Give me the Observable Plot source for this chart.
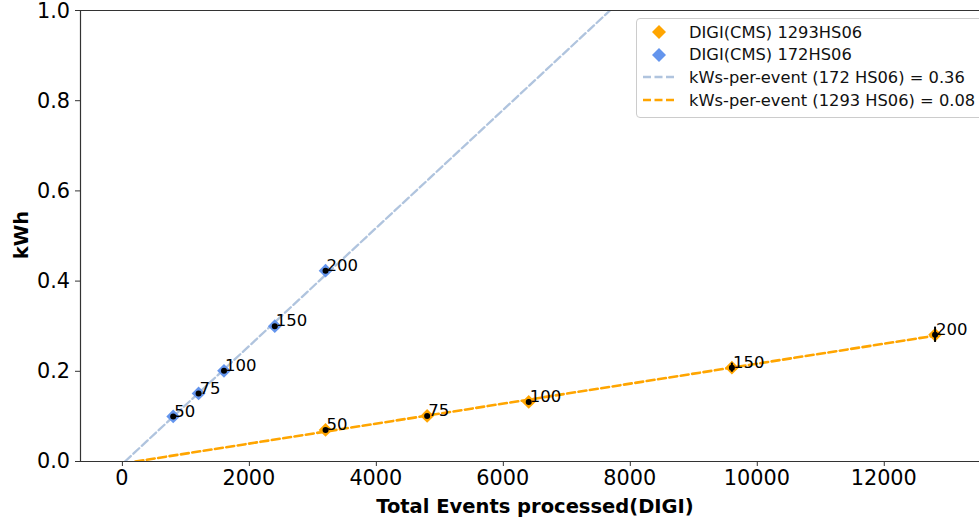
<!DOCTYPE html>
<html>
<head>
<meta charset="utf-8">
<script src="https://cdn.jsdelivr.net/npm/d3@7"></script>
<script src="https://cdn.jsdelivr.net/npm/@observablehq/plot@0.6"></script>
<style>
  html, body { margin: 0; padding: 0; background: #fff; }
  #wrap { position: relative; width: 979px; height: 519px; overflow: hidden; font-family: "DejaVu Sans", sans-serif; }
  #legend { position: absolute; left: 636px; top: 18px; width: 360px; height: 100px; border: 1px solid #cccccc; border-radius: 4px; background: rgba(255,255,255,0.85); box-sizing: border-box; }
  .row { position: absolute; left: 0; height: 22px; display: flex; align-items: center; font-size: 16.3px; color: #111; white-space: nowrap; }
  .row svg { flex: none; }
</style>
</head>
<body>
<div id="wrap"></div>
<script>
// ---- data ----
const pointLabels = ["50", "75", "100", "150", "200"];
const blueX = [800, 1200, 1600, 2400, 3200];
const blueY = [0.100, 0.151, 0.201, 0.300, 0.423];
const blueErr = [0.003, 0.003, 0.003, 0.003, 0.004];
const orangeX = [3200, 4800, 6400, 9600, 12800];
const orangeY = [0.070, 0.101, 0.132, 0.208, 0.281];
const orangeErr = [0.003, 0.003, 0.004, 0.010, 0.017];
const blueFitX = [40, 7680];
const blueFitY = [0.0, 1.0];
const orangeFitX = [205, 12800];
const orangeFitY = [0.0, 0.279];
const xTicks = [0, 2000, 4000, 6000, 8000, 10000, 12000];
const yTicks = [0, 0.2, 0.4, 0.6, 0.8, 1.0];
const legendLabels = ["DIGI(CMS) 1293HS06", "DIGI(CMS) 172HS06", "kWs-per-event (172 HS06) = 0.36", "kWs-per-event (1293 HS06) = 0.08"];

const ORANGE = "#FFA500", BLUE = "#6495ED", LSB = "#B0C4DE";

const blue = blueX.map((x, i) => ({x, y: blueY[i], e: blueErr[i], label: pointLabels[i]}));
const orange = orangeX.map((x, i) => ({x, y: orangeY[i], e: orangeErr[i], label: pointLabels[i]}));
const blueFit = blueFitX.map((x, i) => ({x, y: blueFitY[i]}));
const orangeFit = orangeFitX.map((x, i) => ({x, y: orangeFitY[i]}));
const fmtX = d3.format("d"), fmtY = d3.format(".1f");

const chart = Plot.plot({
  width: 979,
  height: 519,
  marginLeft: 80,
  marginTop: 10,
  marginBottom: 58,
  marginRight: 0,
  style: {fontFamily: "DejaVu Sans, sans-serif", color: "#000", background: "#fff", overflow: "visible"},
  x: {domain: [-660, 13500], label: null},
  y: {domain: [0, 1.0], label: null},
  marks: [
    Plot.axisX({ticks: xTicks, tickFormat: () => "", tickSize: 5, stroke: "#333", label: null}),
    Plot.axisY({ticks: yTicks, tickFormat: () => "", tickSize: 5, stroke: "#333", label: null}),
    Plot.line(blueFit, {x: "x", y: "y", stroke: LSB, strokeWidth: 2.3, strokeDasharray: "8,3.5", clip: true}),
    Plot.line(orangeFit, {x: "x", y: "y", stroke: ORANGE, strokeWidth: 2.6, strokeDasharray: "8,3.5", clip: true}),
    Plot.dot(orange, {x: "x", y: "y", symbol: "diamond2", r: 6.2, fill: ORANGE, stroke: "none"}),
    Plot.dot(blue, {x: "x", y: "y", symbol: "diamond2", r: 6.2, fill: BLUE, stroke: "none"}),
    Plot.ruleX(orange, {x: "x", y1: d => d.y - d.e, y2: d => d.y + d.e, stroke: "#000", strokeWidth: 2}),
    Plot.ruleX(blue, {x: "x", y1: d => d.y - d.e, y2: d => d.y + d.e, stroke: "#000", strokeWidth: 2}),
    Plot.dot(orange, {x: "x", y: "y", r: 3, fill: "#000", stroke: "none"}),
    Plot.dot(blue, {x: "x", y: "y", r: 3, fill: "#000", stroke: "none"}),
    Plot.text(blue, {x: "x", y: "y", text: "label", textAnchor: "start", dx: 1, dy: -5, fontSize: 16.5, fill: "#000"}),
    Plot.text(orange, {x: "x", y: "y", text: "label", textAnchor: "start", dx: 1, dy: -5, fontSize: 16.5, fill: "#000"}),
    Plot.ruleY([0], {stroke: "#333", strokeWidth: 1.2}),
    Plot.ruleY([1.0], {stroke: "#333", strokeWidth: 1.2}),
    Plot.ruleX([-660], {stroke: "#333", strokeWidth: 1.2})
  ]
});

const wrap = document.getElementById("wrap");
wrap.appendChild(chart);

const svg = d3.select(chart);
const X = chart.scale("x"), Y = chart.scale("y");
// tick labels drawn through the chart's own scales
const TF = "20.8px";
const gx = svg.append("g").attr("fill", "#000").attr("text-anchor", "middle");
xTicks.forEach(t => gx.append("text").attr("x", X.apply(t)).attr("y", 485).style("font-size", TF).text(fmtX(t)));
const gy = svg.append("g").attr("fill", "#000").attr("text-anchor", "end");
yTicks.forEach(t => gy.append("text").attr("x", 70).attr("y", Y.apply(t)).attr("dy", "0.36em").style("font-size", TF).text(fmtY(t)));

// axis titles
svg.append("text").attr("x", 535).attr("y", 513).attr("text-anchor", "middle")
  .attr("font-weight", "bold").style("font-size", "19.5px").attr("fill", "#000").text("Total Events processed(DIGI)");
svg.append("text").attr("transform", "translate(28,235) rotate(-90)").attr("text-anchor", "middle")
  .attr("font-weight", "bold").style("font-size", "19.5px").attr("fill", "#000").text("kWh");

// legend
const legend = document.createElement("div");
legend.id = "legend";
const dia = c => `<svg width="52" height="20"><path d="M22,3L29,10L22,17L15,10Z" fill="${c}"/></svg>`;
const dash = (c, w) => `<svg width="52" height="20"><line x1="6" y1="10" x2="39" y2="10" stroke="${c}" stroke-width="${w}" stroke-dasharray="8,3.5"/></svg>`;
const swatches = [dia(ORANGE), dia(BLUE), dash(LSB, 2.3), dash(ORANGE, 2.6)];
legendLabels.forEach((lab, i) => {
  const row = document.createElement("div");
  row.className = "row";
  row.style.top = (2 + i * 22.7) + "px";
  row.innerHTML = swatches[i] + `<span>${lab}</span>`;
  legend.appendChild(row);
});
wrap.appendChild(legend);
</script>
</body>
</html>
